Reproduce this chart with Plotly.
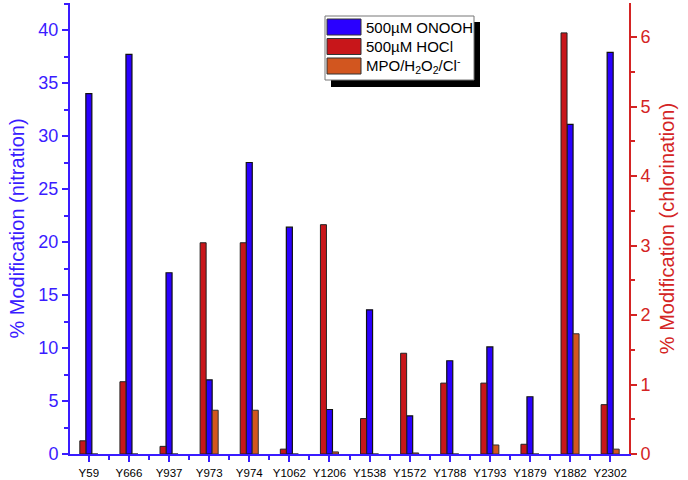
import plotly.graph_objects as go

# residues on x, three treatments
sites = ["Y59", "Y666", "Y937", "Y973", "Y974", "Y1062", "Y1206", "Y1538",
         "Y1572", "Y1788", "Y1793", "Y1879", "Y1882", "Y2302"]

# % nitration (left axis)
onooh = [34.0, 37.7, 17.1, 7.0, 27.5, 21.4, 4.2, 13.6, 3.6, 8.8, 10.1, 5.4, 31.1, 37.9]
# % chlorination (right axis)
hocl = [0.19, 1.04, 0.11, 3.04, 3.04, 0.07, 3.30, 0.51, 1.45, 1.02, 1.02, 0.14, 6.06, 0.71]
mpo = [0, 0, 0, 0.63, 0.63, 0, 0.03, 0, 0.015, 0, 0.13, 0, 1.73, 0.07]

BLUE = "#2a00ff"
RED = "#c8161a"
ORANGE = "#d2561f"
AXBLUE = "#3a1cff"
AXRED = "#d42424"

xs = list(range(len(sites)))

fig = go.Figure()
fig.add_trace(go.Bar(x=xs, y=hocl, yaxis="y2", offset=-0.225, width=0.15,
                     marker=dict(color=RED, line=dict(color="#222", width=1)),
                     name="500µM HOCl"))
fig.add_trace(go.Bar(x=xs, y=onooh, yaxis="y", offset=-0.075, width=0.15,
                     marker=dict(color=BLUE, line=dict(color="#111", width=1.2)),
                     name="500µM ONOOH"))
fig.add_trace(go.Bar(x=xs, y=mpo, yaxis="y2", offset=0.075, width=0.15,
                     marker=dict(color=ORANGE, line=dict(color="#333", width=1)),
                     name="MPO/H2O2/Cl-"))

# plot area in pixels, used for the hand-drawn legend
L, R, T, B = 70, 629, 3, 454


def px(x):
    return (x - L) / (R - L)


def py(y):
    return (B - y) / (B - T)


shapes = [
    # legend shadow + box
    dict(type="rect", xref="paper", yref="paper", x0=px(331), x1=px(480), y0=py(87), y1=py(22),
         fillcolor="black", line=dict(width=0)),
    dict(type="rect", xref="paper", yref="paper", x0=px(325), x1=px(474), y0=py(80), y1=py(16),
         fillcolor="white", line=dict(color="#777", width=1)),
]
annotations = []
legend_items = [("500µM ONOOH", BLUE), ("500µM HOCl", RED),
                ("MPO/H<sub>2</sub>O<sub>2</sub>/Cl<sup>-</sup>", ORANGE)]
for i, (label, col) in enumerate(legend_items):
    top = 19 + i * 19.5
    shapes.append(dict(type="rect", xref="paper", yref="paper", x0=px(327), x1=px(361),
                       y0=py(top + 16), y1=py(top), fillcolor=col,
                       line=dict(color="#333", width=1)))
    annotations.append(dict(xref="paper", yref="paper", x=px(364), y=py(top + 8),
                            text=label, showarrow=False, xanchor="left", yanchor="middle",
                            font=dict(size=15, color="black")))

fig.update_layout(
    width=688, height=480,
    margin=dict(l=L, r=688 - R, t=T, b=480 - B),
    paper_bgcolor="white", plot_bgcolor="white",
    barmode="overlay", showlegend=False,
    font=dict(family="Liberation Sans, Arial, sans-serif"),
    shapes=shapes, annotations=annotations,
    xaxis=dict(range=[-0.47, len(sites) - 0.53], tickmode="array", tickvals=xs, ticktext=sites,
               showline=True, linecolor=AXBLUE, linewidth=2, showgrid=False, zeroline=False,
               ticks="outside", ticklen=6, tickwidth=2, tickcolor=AXBLUE, automargin=False,
               tickfont=dict(size=11.5, color="black"), ticklabelstandoff=1,
               minor=dict(tick0=0.5, dtick=1, ticks="outside", ticklen=4, tickwidth=2,
                          tickcolor=AXBLUE)),
    yaxis=dict(range=[0, 42.55], tickvals=[0, 5, 10, 15, 20, 25, 30, 35, 40],
               showline=True, linecolor=AXBLUE, linewidth=2, showgrid=False, zeroline=False,
               ticks="outside", ticklen=6, tickwidth=2, tickcolor=AXBLUE, automargin=False,
               tickfont=dict(size=18, color=AXBLUE),
               minor=dict(tick0=2.5, dtick=5, ticks="outside", ticklen=4, tickwidth=2,
                          tickcolor=AXBLUE),
               title=dict(text="% Modification (nitration)", font=dict(size=20, color=AXBLUE),
                          standoff=8)),
    yaxis2=dict(range=[0, 6.49], overlaying="y", side="right", tickvals=[0, 1, 2, 3, 4, 5, 6],
                showline=True, linecolor=AXRED, linewidth=2, showgrid=False, zeroline=False,
                ticks="outside", ticklen=6, tickwidth=2, tickcolor=AXRED, automargin=False,
                tickfont=dict(size=18, color=AXRED),
                minor=dict(tick0=0.5, dtick=1, ticks="outside", ticklen=4, tickwidth=2,
                           tickcolor=AXRED),
                title=dict(text="% Modification (chlorination)", font=dict(size=20, color=AXRED),
                           standoff=10)),
)

# page body has an 8px default margin; drop it so the 688x480 figure fills the window
fig.write_html("out.html", config={"displayModeBar": False},
               post_script="document.body.style.margin='0';")
